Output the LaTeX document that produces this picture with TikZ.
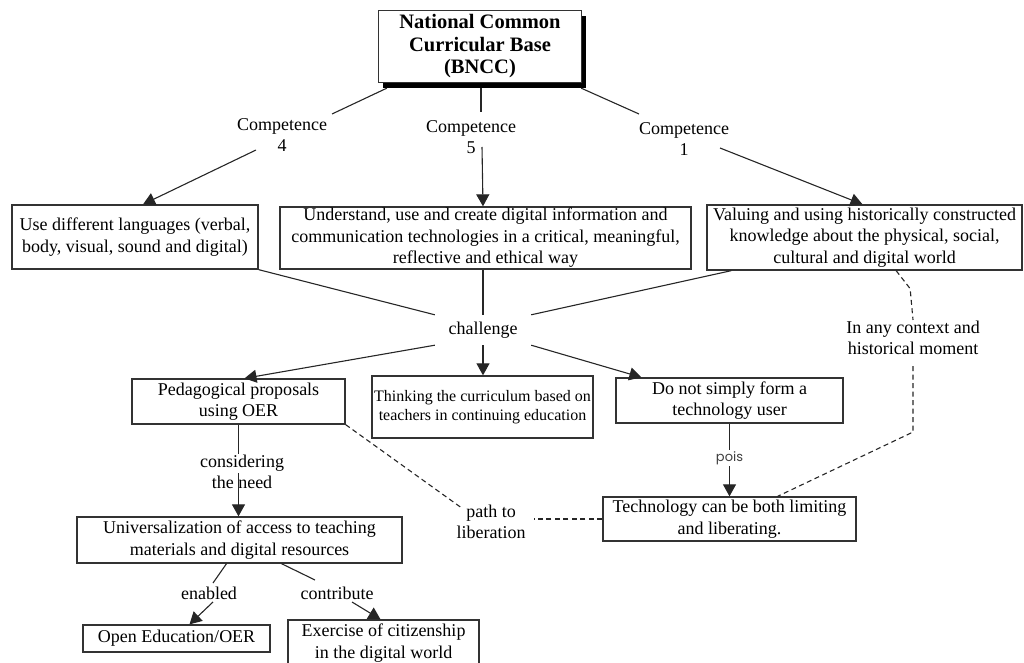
\documentclass[tikz,border=0pt]{standalone}
\usepackage{fontspec}
\setmainfont{Liberation Serif}
\newfontfamily\poisfont{Poppins}
\usetikzlibrary{arrows.meta,calc,shadows}
\begin{document}
\begin{tikzpicture}[x=1pt,y=-1pt,
  box/.style={draw=black!80, line width=1.3pt, inner sep=0pt, align=center, fill=white,
    font=\fontsize{18}{21.5}\selectfont},
  lbl/.style={inner sep=1pt, align=center, font=\fontsize{18}{21}\selectfont},
  con/.style={draw=black!85, line width=1.1pt},
  arr/.style={con, -{Triangle[length=12pt,width=13pt]}},
  dsh/.style={con, dash pattern=on 5pt off 3.5pt}]
\useasboundingbox (0,0) rectangle (1024,663);

% boxes
\node[box, minimum width=203pt, minimum height=72pt,
  font=\bfseries\fontsize{20.5}{22.5}\selectfont,
  drop shadow={shadow xshift=4pt, shadow yshift=-6pt, fill=black, opacity=1}]
  (bncc) at (480,46.5) {National Common\\Curricular Base\\(BNCC)};
\node[box, minimum width=246pt, minimum height=64pt] (box1) at (135,237)
  {Use different languages (verbal,\\body, visual, sound and digital)};
\node[box, minimum width=411pt, minimum height=62pt] (box2) at (485.5,238)
  {Understand, use and create digital information and\\communication technologies in a critical, meaningful,\\reflective and ethical way};
\node[box, minimum width=315pt, minimum height=65pt] (box3) at (864.5,237.5)
  {Valuing and using historically constructed\\knowledge about the physical, social,\\cultural and digital world};
\node[box, minimum width=213pt, minimum height=45pt] (ped) at (238.5,401.5)
  {Pedagogical proposals\\using OER};
\node[box, minimum width=221pt, minimum height=62pt, font=\fontsize{16}{19}\selectfont] (thinking) at (482.5,407)
  {Thinking the curriculum based on\\teachers in continuing education};
\node[box, minimum width=227pt, minimum height=45pt] (donot) at (729.5,400.5)
  {Do not simply form a\\technology user};
\node[box, minimum width=253pt, minimum height=44pt] (tech) at (729.5,519)
  {Technology can be both limiting\\and liberating.};
\node[box, minimum width=325pt, minimum height=46pt] (univ) at (239.5,540)
  {Universalization of access to teaching\\materials and digital resources};
\node[box, minimum width=187pt, minimum height=27pt] (oer) at (176.5,638.5)
  {Open Education/OER};
\node[box, minimum width=191pt, minimum height=46pt] (ex) at (383.5,643)
  {Exercise of citizenship\\in the digital world};

% labels
\node[lbl] (c4) at (282,135) {Competence\\4};
\node[lbl] (c5) at (471,137) {Competence\\5};
\node[lbl] (c1) at (684,139) {Competence\\1};
\node[lbl, minimum width=96pt, minimum height=30pt] (ch) at (483,330) {challenge};
\node[lbl] (ctx) at (913,338) {In any context and\\historical moment};
\node[lbl] (path) at (491,522) {path to\\liberation};
\node[lbl] (cons) at (242,472) {considering\\the need};
\node[lbl] (en) at (209,593) {enabled};
\node[lbl] (co) at (337,593) {contribute};

% connectors from BNCC
\draw[con] ($(bncc.south west)+(9,5)$) -- ($(c4)+(50,-21)$);
\draw[arr] ($(c4)+(-26,15)$) -- ($(box1.north)+(8,0)$);
\draw[con] ($(bncc.south)+(1,5)$) -- ($(c5)+(10,-25)$);
\draw[arr] ($(c5)+(11,10)$) -- ($(box2.north)+(-2.5,0)$);
\draw[con] ($(bncc.south east)+(-1,5)$) -- ($(c1)+(-45,-25)$);
\draw[arr] ($(c1)+(36,9)$) -- ($(box3.north)+(-2,0)$);

% challenge
\draw[con] (box1.south east) -- (ch.north west);
\draw[con] (ch.north |- box2.south) -- (ch.north);
\draw[con] ($(box3.south west)+(25,0)$) -- (ch.north east);
\draw[arr] (ch.south west) -- ($(ped.north)+(6,0)$);
\draw[arr] (ch.south) -- (ch.south |- thinking.north);
\draw[arr] (ch.south east) -- ($(donot.north west)+(26,0)$);

% right side
\draw[dsh] ($(box3.south west)!0.6!(box3.south east)$) -- ++(14,18) -- (ctx.north);
\draw[dsh] ($(ctx.south)+(0,10)$) -- ++(0,66) -- ($(tech.north)+(48,0)$);
\draw[arr] (donot.south) -- (tech.north);
\node[fill=white, inner sep=1.5pt, text=black!75, font=\poisfont\fontsize{13}{15}\selectfont]
  (pois) at ($(donot.south)!0.47!(tech.north)$) {pois};

% path to liberation
\draw[dsh] (ped.south east) -- ($(path.north west)+(5,3)$);
\draw[dsh] (tech.west) -- ($(path.east |- tech.west)+(7,0)$);

% left lower
\draw[con] (ped.south) -- (ped.south |- cons.north);
\draw[arr] ($(ped.south |- cons)+(0,1)$) -- (ped.south |- univ.north);
\draw[con] ($(univ.south)+(-13,0)$) -- ($(en)+(4,-10)$);
\draw[arr] ($(en)+(4,9)$) -- ($(oer.north)+(13,0)$);
\draw[con] ($(univ.south)+(42,0)$) -- ($(co)+(-22,-13)$);
\draw[arr] ($(co)+(15,9)$) -- ($(ex.north)+(-3,0)$);
\end{tikzpicture}
\end{document}
